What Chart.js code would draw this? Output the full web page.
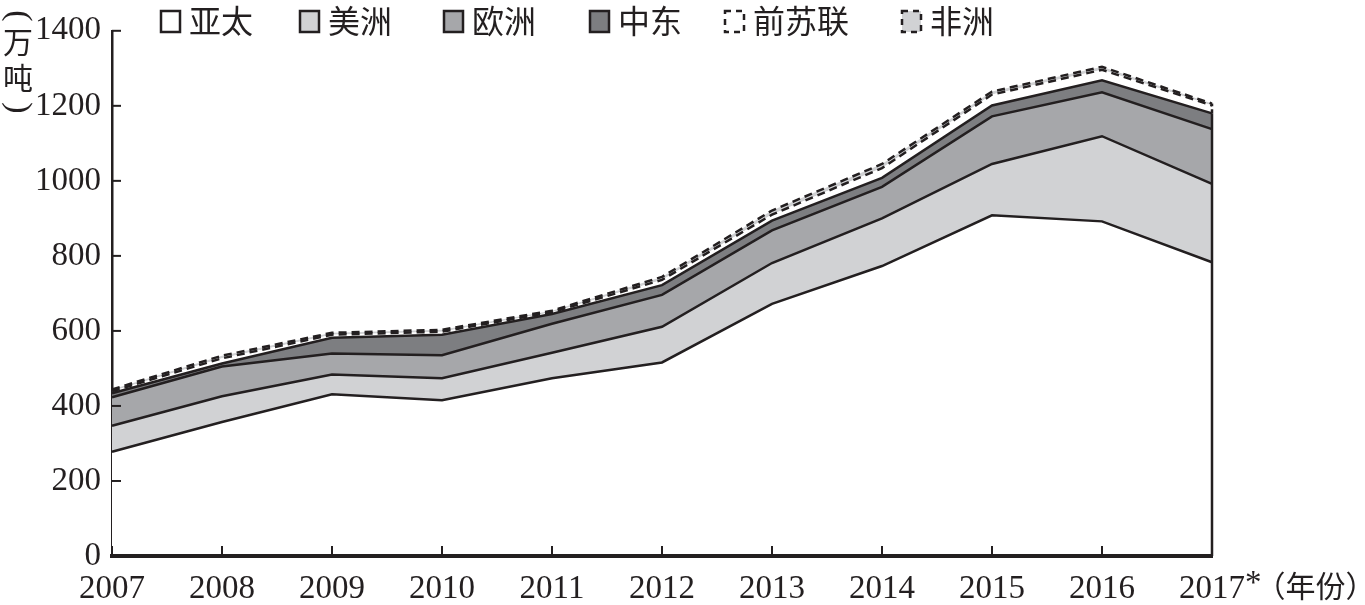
<!DOCTYPE html>
<html>
<head>
<meta charset="utf-8">
<title>分地区产量</title>
<script src="https://cdn.jsdelivr.net/npm/chart.js@4.4.0/dist/chart.umd.min.js"></script>
<style>
  html, body { margin: 0; padding: 0; background: #fff; }
  #wrap { width: 1365px; height: 605px; position: relative; }
</style>
</head>
<body>
<div id="wrap"><canvas id="areaChart"></canvas></div>
<script>
// Data (万吨), stacked from bottom to top
const years = ['2007', '2008', '2009', '2010', '2011', '2012', '2013', '2014', '2015', '2016', '2017*'];
const asiaPacific = [278, 357, 431, 415, 474, 516, 672, 773, 908, 892, 783];
const americas = [69, 69, 53, 59, 68, 95, 109, 127, 137, 227, 209];
const europe = [76, 79, 56, 61, 77, 85, 87, 84, 127, 117, 146];
const middleEast = [11, 8, 42, 55, 26, 26, 26, 24, 29, 32, 42];
const formerSoviet = [5, 14, 8, 8, 5, 14, 16, 26, 29, 28, 21];
const africa = [5, 7, 5, 5, 4, 8, 11, 11, 8, 8, 5];
const yTicks = [0, 200, 400, 600, 800, 1000, 1200, 1400];
const seriesNames = ['亚太', '美洲', '欧洲', '中东', '前苏联', '非洲'];

const INK = '#231f20';
const NUM_FONT = "'Liberation Serif', 'DejaVu Serif', serif";
const CJK_FONT = "'Noto Sans CJK SC', 'Noto Sans CJK JP', sans-serif";

function layer(label, data, fill, dashed) {
  return {
    label: label,
    data: data,
    backgroundColor: fill,
    borderColor: INK,
    borderWidth: 2.5,
    borderDash: dashed ? [8, 5] : [],
    fill: label === '亚太' ? 'origin' : '-1',
    pointRadius: 0,
    tension: 0
  };
}

// legend, inward ticks, axis titles and right edge of the stack
const decorations = {
  id: 'decorations',
  afterDraw(chart) {
    const ctx = chart.ctx;
    const x = chart.scales.x, y = chart.scales.y;
    const area = chart.chartArea;
    ctx.save();
    ctx.strokeStyle = INK;
    ctx.lineWidth = 2;

    // inward ticks
    yTicks.forEach(v => {
      const py = y.getPixelForValue(v);
      ctx.beginPath();
      ctx.moveTo(area.left, py);
      ctx.lineTo(area.left + 9, py);
      ctx.stroke();
    });
    years.forEach((yr, i) => {
      const px = x.getPixelForValue(i);
      ctx.beginPath();
      ctx.moveTo(px, area.bottom);
      ctx.lineTo(px, area.bottom - 10);
      ctx.stroke();
    });

    // right edge of the stacked areas
    const last = years.length - 1;
    const ex = x.getPixelForValue(last);
    const midTop = asiaPacific[last] + americas[last] + europe[last] + middleEast[last];
    const allTop = midTop + formerSoviet[last] + africa[last];
    ctx.lineWidth = 2.5;
    ctx.beginPath();
    ctx.moveTo(ex, y.getPixelForValue(0));
    ctx.lineTo(ex, y.getPixelForValue(midTop));
    ctx.stroke();
    ctx.setLineDash([4, 3]);
    ctx.beginPath();
    ctx.moveTo(ex, y.getPixelForValue(midTop));
    ctx.lineTo(ex, y.getPixelForValue(allTop));
    ctx.stroke();
    ctx.setLineDash([]);

    // heavier bottom axis
    ctx.lineWidth = 4;
    ctx.beginPath();
    ctx.moveTo(area.left, area.bottom);
    ctx.lineTo(area.right, area.bottom);
    ctx.stroke();

    // x axis: "*（年份）" after the last year
    ctx.fillStyle = INK;
    ctx.textBaseline = 'middle';
    ctx.font = '33px ' + NUM_FONT;
    const lastW = ctx.measureText('2017').width;
    let tx = ex + lastW / 2;
    ctx.textAlign = 'left';
    ctx.fillText('*', tx, 584);
    tx += ctx.measureText('*').width;
    ctx.font = '30px ' + CJK_FONT;
    ctx.fillText('（年份）', tx - 6, 586);

    // y axis title, vertical, brackets turned
    ctx.textAlign = 'center';
    ctx.font = '30px ' + CJK_FONT;
    ctx.fillText('万', 18, 42);
    ctx.fillText('吨', 18, 78);
    ctx.font = '34px ' + NUM_FONT;
    [['(', 16], [')', 108]].forEach(([ch, cy]) => {
      ctx.save();
      ctx.translate(18, cy);
      ctx.rotate(Math.PI / 2);
      ctx.fillText(ch, 0, 0);
      ctx.restore();
    });

    // legend
    const boxX = [161, 300, 444, 590, 725, 902];
    chart.data.datasets.forEach((ds, i) => {
      ctx.fillStyle = ds.backgroundColor;
      ctx.strokeStyle = INK;
      ctx.lineWidth = 2.5;
      ctx.setLineDash(ds.borderDash.length ? [6, 5] : []);
      ctx.fillRect(boxX[i], 11, 19, 21);
      ctx.strokeRect(boxX[i], 11, 19, 21);
      ctx.setLineDash([]);
      ctx.fillStyle = INK;
      ctx.textAlign = 'left';
      ctx.font = '32px ' + CJK_FONT;
      ctx.fillText(ds.label, boxX[i] + 28, 21);
    });
    ctx.restore();
  }
};

const ctx = document.getElementById('areaChart').getContext('2d');
new Chart(ctx, {
  type: 'line',
  data: {
    labels: years,
    datasets: [
      layer(seriesNames[0], asiaPacific, '#ffffff', false),
      layer(seriesNames[1], americas, '#d1d2d4', false),
      layer(seriesNames[2], europe, '#a6a7aa', false),
      layer(seriesNames[3], middleEast, '#7d7e81', false),
      layer(seriesNames[4], formerSoviet, '#ffffff', true),
      layer(seriesNames[5], africa, '#d1d2d4', true)
    ]
  },
  options: {
    responsive: true,
    maintainAspectRatio: false,
    animation: false,
    layout: { padding: { top: 27, right: 153, bottom: 0, left: 0 } },
    plugins: {
      legend: { display: false },
      tooltip: { enabled: false }
    },
    scales: {
      x: {
        offset: false,
        grid: { display: false, drawTicks: false },
        border: { color: INK, width: 4 },
        ticks: {
          color: INK,
          font: { family: NUM_FONT, size: 33 },
          padding: 14,
          maxRotation: 0,
          autoSkip: false,
          callback: function (val) {
            return this.getLabelForValue(val).replace('*', '');
          }
        },
        afterFit: s => { s.height = 49; }
      },
      y: {
        stacked: true,
        min: 0,
        max: 1400,
        grid: { display: false, drawTicks: false },
        border: { color: INK, width: 2.5 },
        ticks: {
          stepSize: 200,
          color: INK,
          padding: 11,
          font: { family: NUM_FONT, size: 33 },
          callback: v => String(v)
        },
        afterFit: s => { s.width = 112; }
      }
    }
  },
  plugins: [decorations]
});
</script>
</body>
</html>
